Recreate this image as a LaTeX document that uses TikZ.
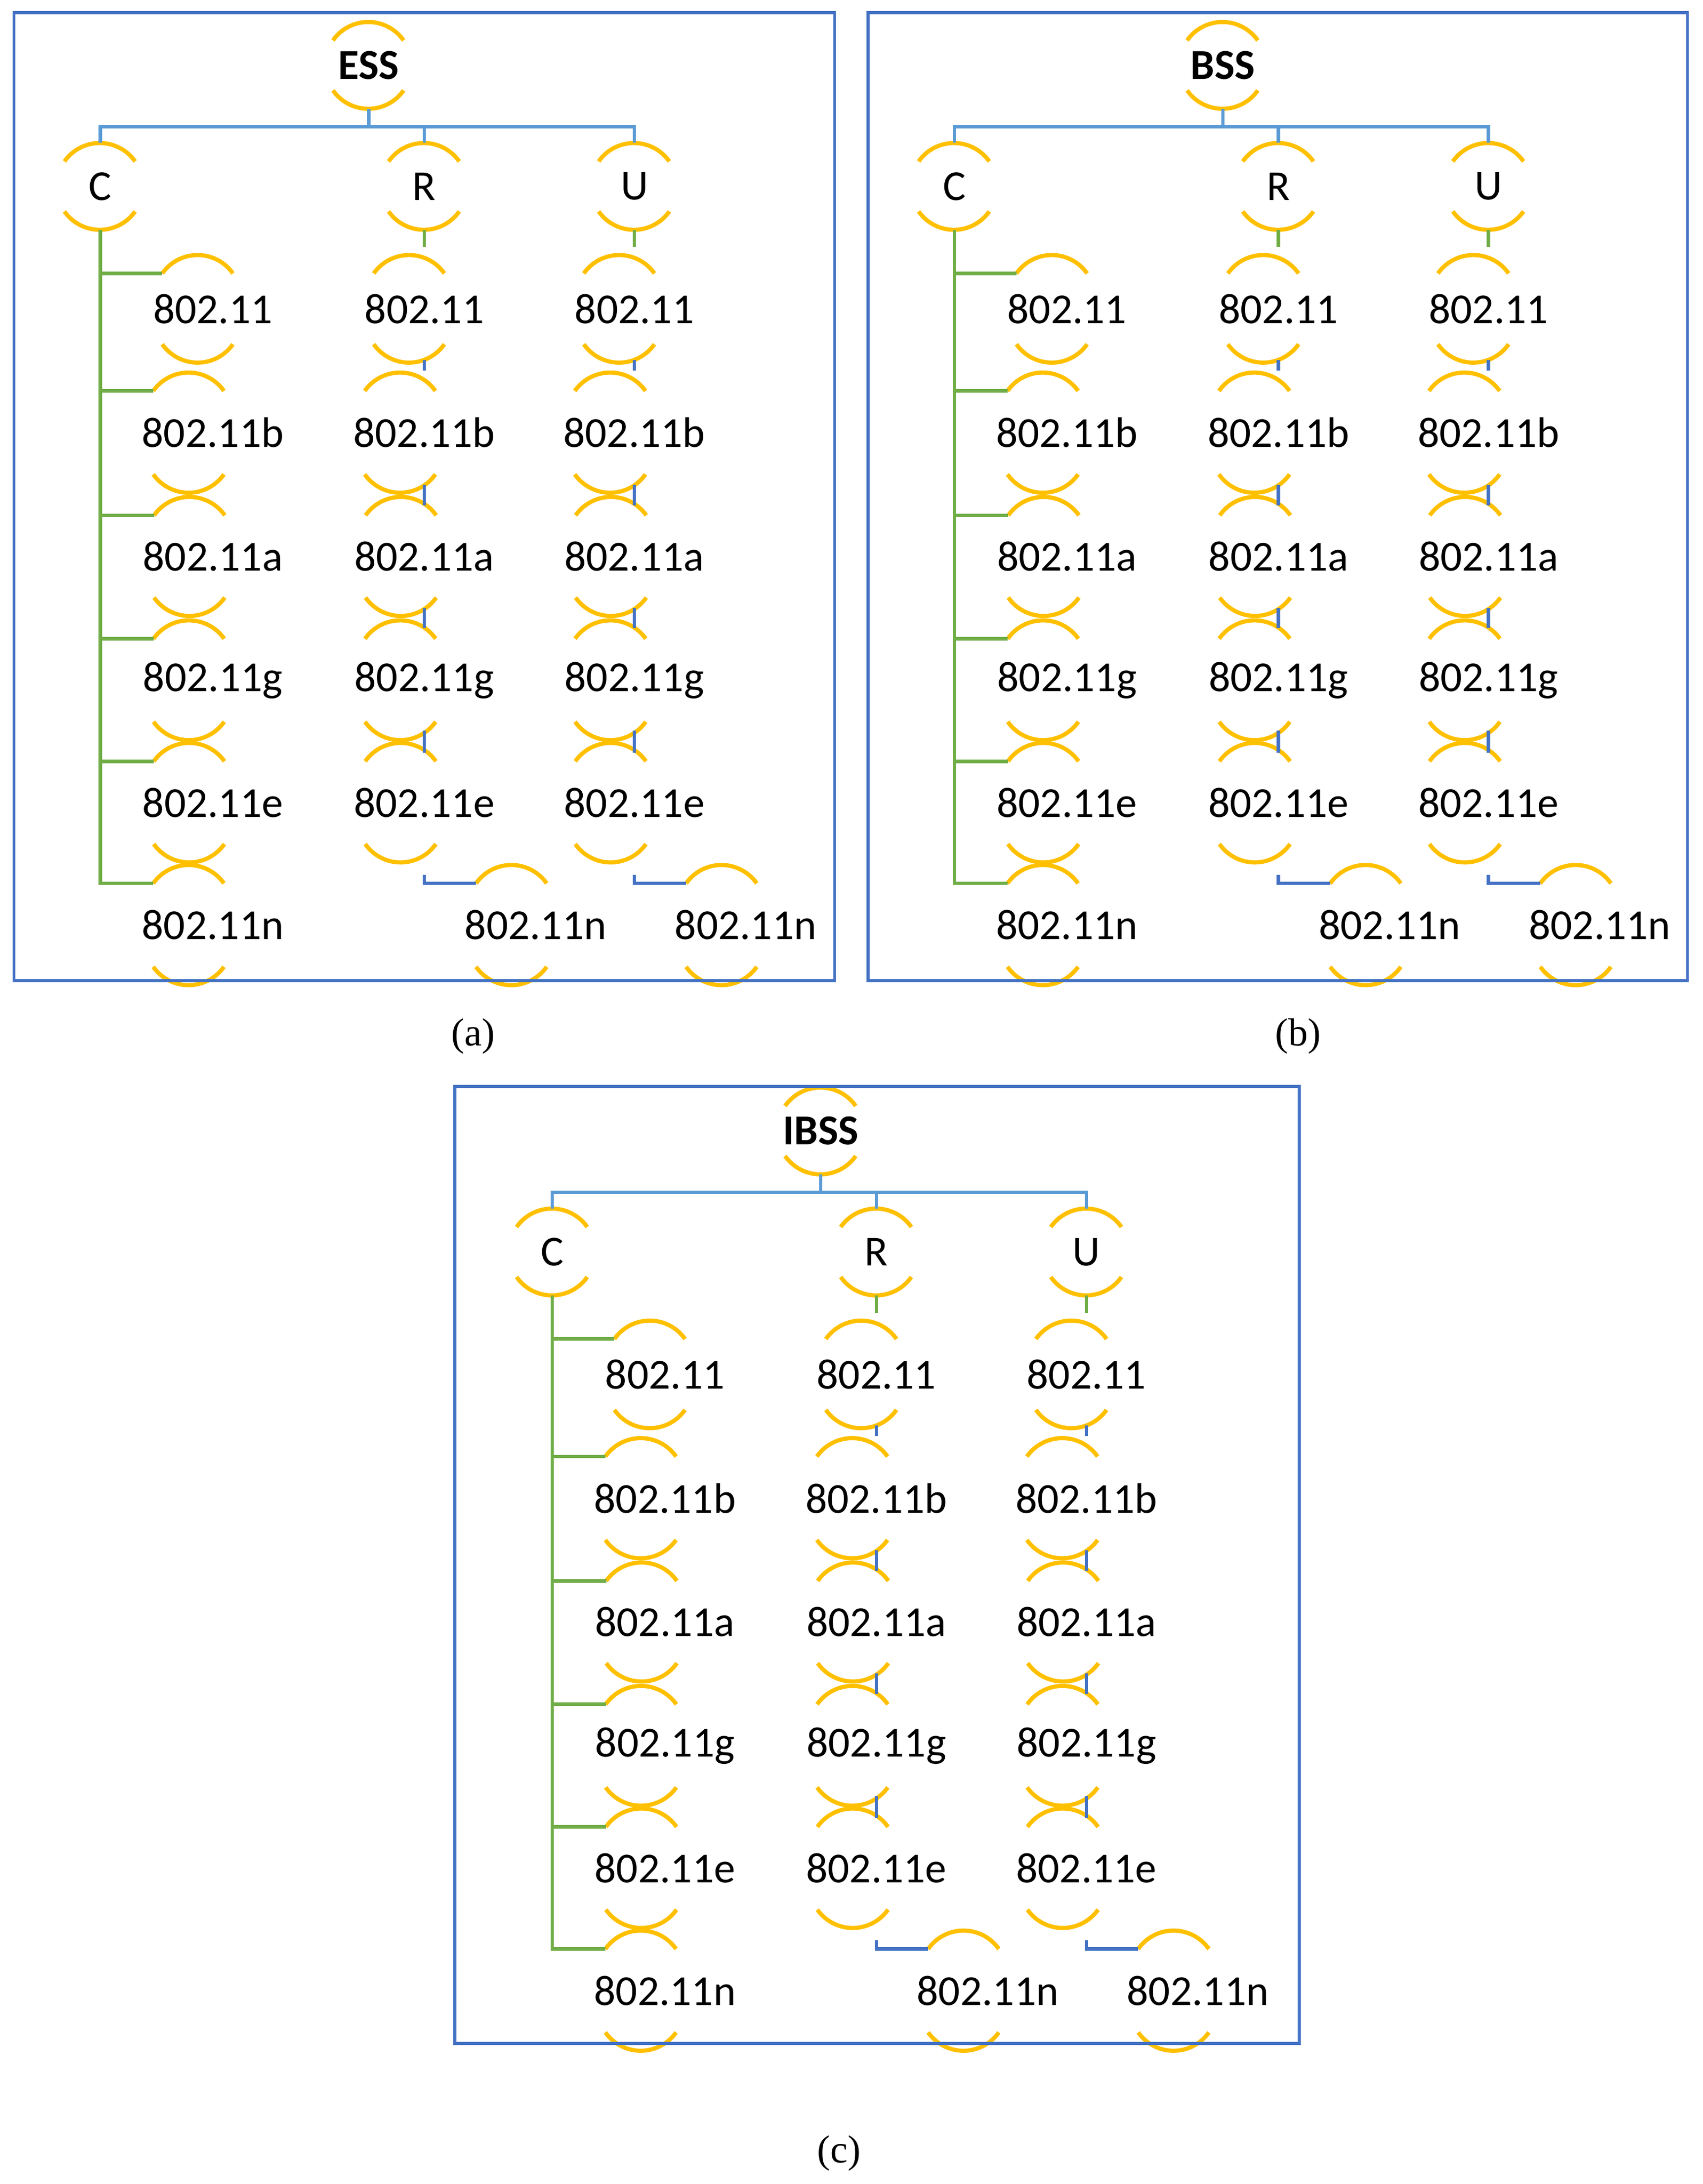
\documentclass[tikz,border=0pt]{standalone}
\usepackage{fontspec}
\setmainfont{Carlito}
\newfontfamily\capfont{Liberation Serif}
\definecolor{bus}{RGB}{91,155,213}
\definecolor{grn}{RGB}{112,173,71}
\definecolor{blu}{RGB}{68,114,196}
\definecolor{org}{RGB}{255,192,0}
\tikzset{
 nd/.style={circle,minimum size=1.24cm,inner sep=0pt,font=\fontsize{17.5}{20}\selectfont},
 arcst/.style={draw=org,line width=1.7pt},
 busl/.style={draw=bus,line width=1.4pt},
 grnl/.style={draw=grn,line width=1.4pt},
 blul/.style={draw=blu,line width=1.4pt},
 frame/.style={draw=blu,line width=1.2pt},
 capt/.style={font=\capfont\fontsize{16}{19}\selectfont}
}
\newcommand\arcs[1]{\draw[arcst] (#1.145) arc[start angle=145,end angle=35,radius=0.62cm];
 \draw[arcst] (#1.215) arc[start angle=215,end angle=325,radius=0.62cm];}
\newcommand\panel[4]{%
\begin{scope}[shift={(#2,#3)}]
 \node[nd,font=\fontsize{17.5}{20}\selectfont\bfseries] (#1t) at (265,-47) {#4};
 \node[nd] (#1C) at (72,-134) {C};
 \node[nd] (#1R) at (305,-134) {R};
 \node[nd] (#1U) at (456,-134) {U};
 \coordinate (#1b) at (265,-91);
 \foreach \s/\l/\y in {1/{}/222,b/b/311,a/a/400,g/g/489,e/e/577}{
  \node[nd] (#1C\s) at (153,-\y) {802.11\l};
  \node[nd] (#1R\s) at (305,-\y) {802.11\l};
  \node[nd] (#1U\s) at (456,-\y) {802.11\l};
  \arcs{#1C\s}\arcs{#1R\s}\arcs{#1U\s}
  \draw[grnl] (#1C.south |- #1C\s.145) -- (#1C\s.145);
 }
 \node[nd] (#1Cn) at (153,-665) {802.11n};
 \node[nd] (#1Rn) at (385,-665) {802.11n};
 \node[nd] (#1Un) at (536,-665) {802.11n};
 \foreach \n in {t,C,R,U,Cn,Rn,Un}{\arcs{#1\n}}
 \draw[busl] (#1t.south) -- (#1b);
 \draw[busl] (#1C.north) -- (#1C.north |- #1b) -- (#1U.north |- #1b) -- (#1U.north);
 \draw[busl] (#1R.north) -- (#1R.north |- #1b);
 \draw[grnl] (#1C.south) -- (#1C.south |- #1Cn.145) -- (#1Cn.145);
 \foreach \c in {R,U}{
  \draw[grnl] (#1\c.south) -- (#1\c1.north);
  \draw[blul] (#1\c1.south) -- (#1\c b.north);
  \draw[blul] (#1\c b.south) -- (#1\c a.north);
  \draw[blul] (#1\c a.south) -- (#1\c g.north);
  \draw[blul] (#1\c g.south) -- (#1\c e.north);
  \draw[blul] (#1\c e.south) |- (#1\c n.145);
 }
\end{scope}}
\begin{document}
\begin{tikzpicture}[x=0.02cm,y=0.02cm]
\useasboundingbox (0,0) rectangle (1224,-1570);
\fill[white] (0,0) rectangle (1224,-1570);
\panel{a}{0}{0}{ESS}
\panel{b}{614}{0}{BSS}
\panel{c}{325}{-766}{IBSS}
\draw[frame] (10,-9) rectangle (600,-705);
\draw[frame] (624,-9) rectangle (1213,-705);
\draw[frame] (327,-781) rectangle (934,-1469);
\node[capt] (la) at (340,-745) {(a)};
\node[capt] (lb) at (933,-745) {(b)};
\node[capt] (lc) at (603,-1548) {(c)};
\end{tikzpicture}
\end{document}
